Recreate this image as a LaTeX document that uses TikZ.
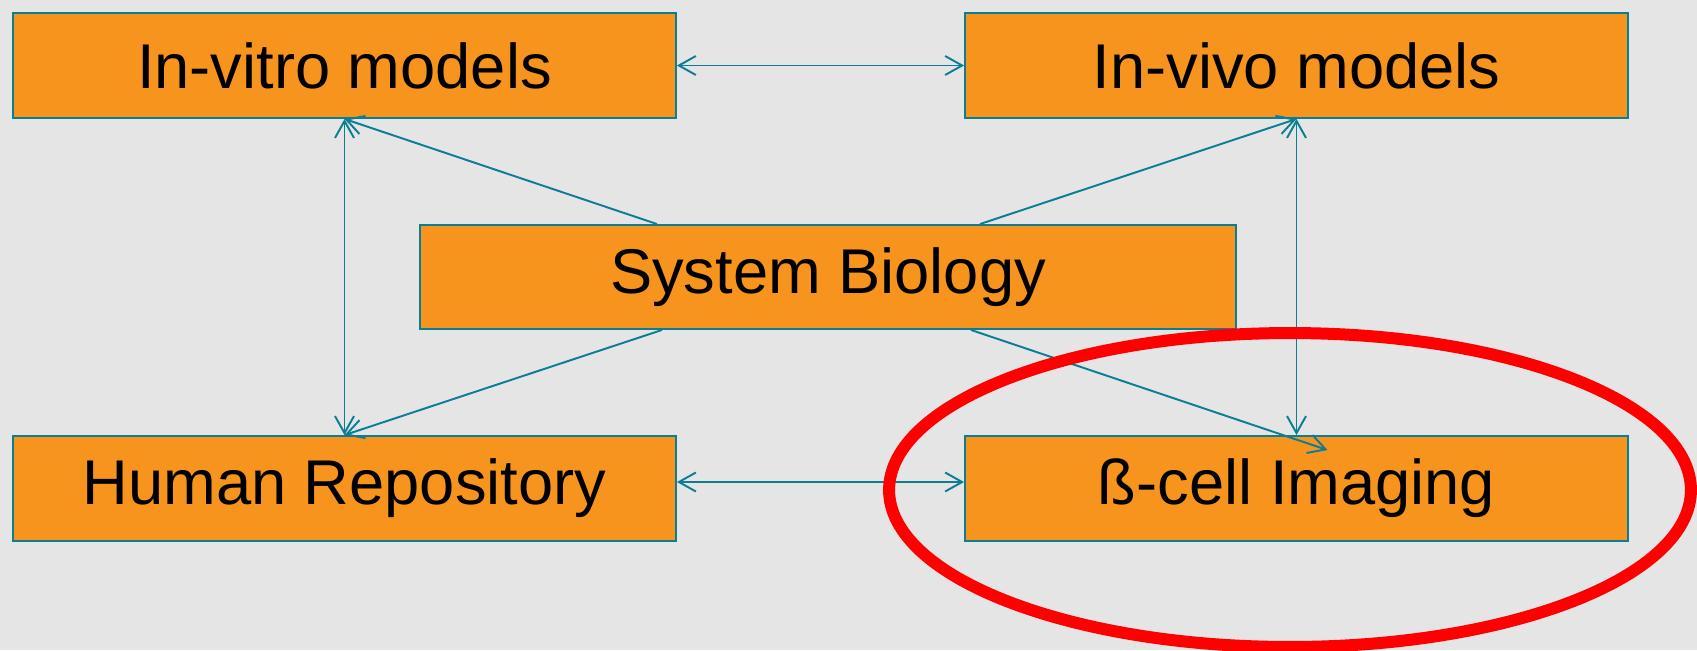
\documentclass[tikz,border=0pt]{standalone}
\usepackage{fontspec}
\setmainfont{Liberation Sans}
\usepackage{tikz}
\usetikzlibrary{arrows.meta, positioning, calc}
\definecolor{bgrey}{HTML}{E5E5E5}
\definecolor{boxorange}{HTML}{F7941D}
\definecolor{linkteal}{HTML}{0B7E95}
\definecolor{ringred}{HTML}{FF0000}

\begin{document}
\begin{tikzpicture}[x=0.02cm, y=-0.02cm,
    box/.style={draw=linkteal, fill=boxorange, line width=1.1pt, inner sep=0pt,
        minimum width=13.26cm, minimum height=2.1cm, font=\fontsize{36pt}{40pt}\selectfont},
    link/.style={draw=linkteal, line width=1.1pt},
    tip/.style={-{Straight Barb[length=0.34cm, width=0.38cm]}},
    tips/.style={{Straight Barb[length=0.34cm, width=0.38cm]}-{Straight Barb[length=0.34cm, width=0.38cm]}}]
    % Background
    \fill[bgrey] (0,0) rectangle (1697,650);
    \useasboundingbox (0,0) rectangle (1697,650);

    % Boxes
    \node[box] (invitro) at (344.5,65.5) {In-vitro models};
    \node[box] (invivo) at (1296.5,65.5) {In-vivo models};
    \node[box, minimum width=16.32cm, minimum height=2.08cm] (sysbio) at (828,277) {System Biology};
    \node[box] (humanrepo) at (344.5,488.5) {Human Repository};
    \node[box] (betacell) at (1296.5,488.5) {ß-cell Imaging};

    % Links
    \draw[link, tips] (invitro.east) -- (invivo.west);
    \draw[link, tips] ([yshift=0.13cm]humanrepo.east) -- ([yshift=0.13cm]betacell.west);
    \draw[link, tips] (invitro.south) -- (humanrepo.north);
    \draw[link, tips] (invivo.south) -- (betacell.north);

    \draw[link, tip] ($(sysbio.north)+(-171,0)$) -- (invitro.south);
    \draw[link, tip] ($(sysbio.north)+(152,0)$) -- (invivo.south);
    \draw[link, tip] ($(sysbio.south)+(-166,0)$) -- (humanrepo.north);
    \draw[link, tip] ($(sysbio.south)+(143,0)$) -- ($(betacell.north)+(31,15)$);

    % Highlight
    \draw[ringred, line width=0.24cm] (1290,490) ellipse [x radius=8.02cm, y radius=3.14cm];
\end{tikzpicture}
\end{document}
